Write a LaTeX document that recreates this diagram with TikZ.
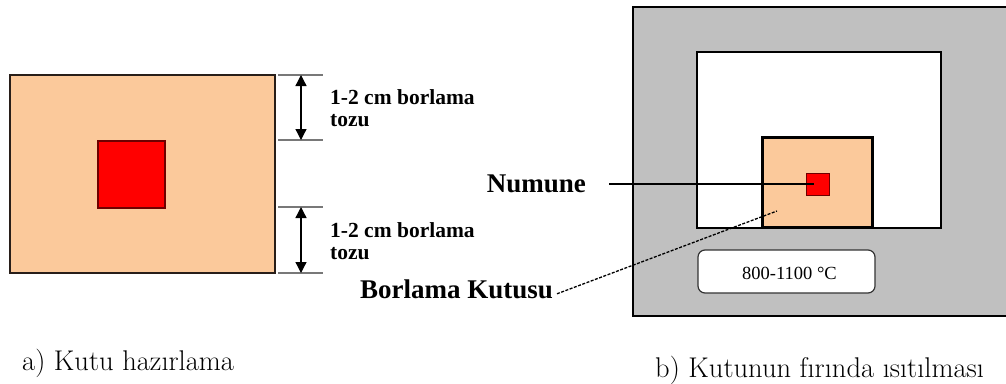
\documentclass[tikz,border=0pt]{standalone}
\usepackage{fontspec}
\newfontfamily\tms{Liberation Serif}
\usetikzlibrary{arrows.meta}
\definecolor{peach}{RGB}{251,201,155}
\definecolor{ovengray}{RGB}{192,192,192}
\definecolor{dimgray}{RGB}{120,120,120}
\definecolor{darkred}{RGB}{110,0,0}
\definecolor{edge}{RGB}{40,30,25}
\tikzset{
  box/.style={rectangle,inner sep=0pt,outer sep=0pt},
  lbl/.style={inner sep=0pt,font=\tms\bfseries\fontsize{21.5}{22}\selectfont,align=left},
  big/.style={inner sep=0pt,font=\tms\bfseries\fontsize{27}{30}\selectfont},
  captext/.style={inner sep=0pt,font=\fontsize{28.5}{30}\selectfont},
  dimline/.style={draw=dimgray,line width=2pt},
  dimarrow/.style={line width=1.3pt,{Triangle[width=11pt,length=11pt]}-{Triangle[width=11pt,length=11pt]}},
}
\begin{document}
\begin{tikzpicture}[x=1pt,y=-1pt]
\useasboundingbox (0,0) rectangle (1006,383);
% ---------- a) ----------
\node[box,draw=edge,line width=1.5pt,fill=peach,minimum width=265pt,minimum height=198pt] (boxA) at (142.5,174) {};
\node[box,draw=darkred,line width=1.3pt,fill=red,minimum width=67pt,minimum height=67pt] (redA) at (131.5,174.5) {};
% dimension lines
\coordinate (d1l) at (278,75);  \coordinate (d1r) at (323,75);
\coordinate (d2l) at (278,140); \coordinate (d2r) at (323,140);
\coordinate (d3l) at (278,207); \coordinate (d3r) at (323,207);
\coordinate (d4l) at (278,273); \coordinate (d4r) at (323,273);
\draw[dimline] (d1l) -- (d1r);
\draw[dimline] (d2l) -- (d2r);
\draw[dimline] (d3l) -- (d3r);
\draw[dimline] (d4l) -- (d4r);
\coordinate (a1) at (301,75);  \coordinate (a2) at (301,140);
\coordinate (a3) at (301,207); \coordinate (a4) at (301,273);
\draw[dimarrow] (a1) -- (a2);
\draw[dimarrow] (a3) -- (a4);
\node[lbl,anchor=north west] (t1) at (330,89) {1-2 cm borlama\\tozu};
\node[lbl,anchor=north west] (t2) at (330,222) {1-2 cm borlama\\tozu};
\node[captext,anchor=base west] (capA) at (22,370) {a) Kutu hazırlama};
% ---------- b) ----------
\node[box,draw=black,line width=1.2pt,fill=ovengray,minimum width=380pt,minimum height=309pt] (oven) at (823,161.5) {};
\node[box,draw=black,line width=1.2pt,fill=white,minimum width=244pt,minimum height=176pt] (chamber) at (819,140) {};
\node[box,draw=black,line width=2.8pt,fill=peach,minimum width=110pt,minimum height=90pt] (boxB) at (817.5,182.5) {};
\node[box,draw=darkred,line width=1pt,fill=red,minimum width=23pt,minimum height=22pt] (redB) at (817.5,184) {};
\node[box,draw=black!80,line width=1.2pt,fill=white,rounded corners=7pt,minimum width=177pt,minimum height=43pt] (temp) at (786.5,271.5) {};
\node[inner sep=0pt,font=\tms\fontsize{18.5}{20}\selectfont] (templbl) at (789.5,273) {800-1100 °C};
\node[big,anchor=base east] (numune) at (586,192) {Numune};
\node[big,anchor=base east] (kutusu) at (553,298) {Borlama Kutusu};
\coordinate (kend) at (777,211);
\draw[line width=1.1pt] (numune.east |- redB.center) ++(23,0) -- ([xshift=-4pt]redB.center);
\draw[line width=1.3pt,dash pattern=on 3pt off 1.5pt] ([xshift=4pt,yshift=-5pt]kutusu.east) -- (kend);
\node[captext,anchor=base west] (capB) at (655,377) {b) Kutunun fırında ısıtılması};
\end{tikzpicture}
\end{document}
